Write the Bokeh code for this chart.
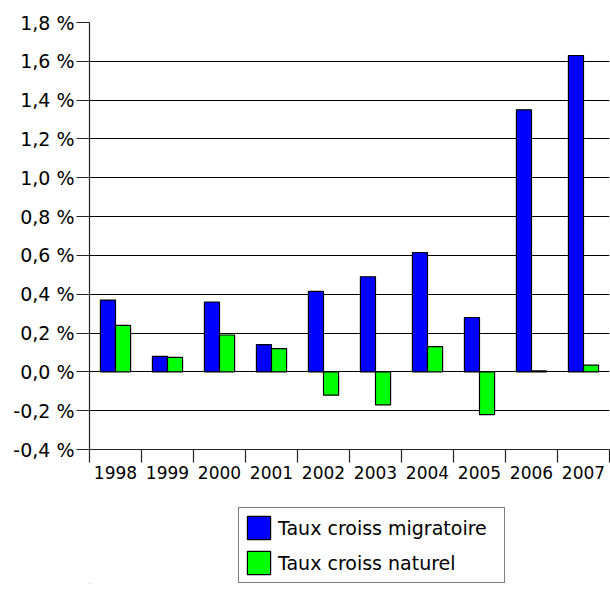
from bokeh.plotting import figure
from bokeh.layouts import column
from bokeh.models import (ColumnDataSource, Range1d, FixedTicker, Legend, LegendItem)
from bokeh.embed import file_html
from bokeh.resources import INLINE

# ---- data ----
years = ["1998", "1999", "2000", "2001", "2002", "2003", "2004", "2005", "2006", "2007"]
migratoire = [0.37, 0.08, 0.36, 0.14, 0.415, 0.49, 0.615, 0.28, 1.35, 1.63]
naturel = [0.24, 0.075, 0.19, 0.12, -0.12, -0.17, 0.13, -0.22, 0.005, 0.035]
y_ticks = [-0.4, -0.2, 0.0, 0.2, 0.4, 0.6, 0.8, 1.0, 1.2, 1.4, 1.6, 1.8]
y_labels = ["-0,4 %", "-0,2 %", "0,0 %", "0,2 %", "0,4 %", "0,6 %", "0,8 %",
            "1,0 %", "1,2 %", "1,4 %", "1,6 %", "1,8 %"]
series_names = ["Taux croiss migratoire", "Taux croiss naturel"]

FONT = "DejaVu Sans"
BLUE = "#0000FF"
GREEN = "#00FF00"

idx = list(range(len(years)))
centers = [i + 0.5 for i in idx]
src = ColumnDataSource(dict(
    xm=[c - 0.145 for c in centers],
    xn=[c + 0.145 for c in centers],
    m=migratoire,
    n=naturel,
))

p = figure(width=610, height=500, output_backend="svg", toolbar_location=None,
           x_range=Range1d(0, len(years)), y_range=Range1d(y_ticks[0], y_ticks[-1]),
           min_border_left=89, min_border_right=1, min_border_top=22,
           min_border_bottom=51)
p.outline_line_color = None
p.background_fill_color = "white"
p.border_fill_color = "white"

p.vbar(x="xm", top="m", bottom=0, width=0.29, source=src,
       fill_color=BLUE, line_color="black", line_width=1.2)
p.vbar(x="xn", top="n", bottom=0, width=0.29, source=src,
       fill_color=GREEN, line_color="black", line_width=1.2)

# y axis
p.yaxis.ticker = FixedTicker(ticks=y_ticks)
p.yaxis.major_label_overrides = {t: l for t, l in zip(y_ticks, y_labels)}
p.yaxis.major_tick_out = 13
p.yaxis.major_tick_in = 0
p.yaxis.minor_tick_line_color = None
p.yaxis.major_label_standoff = 2
p.yaxis.major_label_text_font = FONT
p.yaxis.major_label_text_font_size = "19px"
p.yaxis.major_label_text_color = "black"
p.yaxis.axis_line_color = "#222222"
p.yaxis.axis_line_width = 1.2
p.yaxis.major_tick_line_color = "#222222"
p.yaxis.major_tick_line_width = 1.2

p.ygrid.ticker = FixedTicker(ticks=y_ticks)
p.ygrid.grid_line_color = "#000000"
p.ygrid.grid_line_width = 1.2
p.xgrid.grid_line_color = None

# x axis: labels at category centers, ticks at boundaries
p.xaxis.ticker = FixedTicker(ticks=centers, minor_ticks=[float(i) for i in range(len(years) + 1)])
p.xaxis.major_label_overrides = {c: y for c, y in zip(centers, years)}
p.xaxis.major_tick_out = 13
p.xaxis.major_tick_in = 0
p.xaxis.major_tick_line_color = None
p.xaxis.minor_tick_out = 13
p.xaxis.minor_tick_in = 0
p.xaxis.minor_tick_line_color = "#222222"
p.xaxis.minor_tick_line_width = 1.2
p.xaxis.major_label_standoff = 3
p.xaxis.major_label_text_font = FONT
p.xaxis.major_label_text_font_size = "17px"
p.xaxis.major_label_text_color = "black"
p.xaxis.axis_line_color = "#222222"
p.xaxis.axis_line_width = 1.2

# legend panel below the chart (its frame is aligned with the chart's frame)
lg = figure(width=610, height=89, output_backend="svg", toolbar_location=None,
            x_range=Range1d(0, 1), y_range=Range1d(0, 1),
            x_axis_type=None, y_axis_type=None,
            min_border_left=89, min_border_right=1, min_border_top=0, min_border_bottom=6)
lg.outline_line_color = None
lg.xgrid.grid_line_color = None
lg.ygrid.grid_line_color = None
hidden = ColumnDataSource(dict(x=[-50], top=[0]))
l_m = lg.vbar(x="x", top="top", width=1, source=hidden,
              fill_color=BLUE, line_color="black", line_width=1.2)
l_n = lg.vbar(x="x", top="top", width=1, source=hidden,
              fill_color=GREEN, line_color="black", line_width=1.2)

legend = Legend(items=[LegendItem(label=series_names[0], renderers=[l_m]),
                       LegendItem(label=series_names[1], renderers=[l_n])],
                location=(149, 0), margin=0, padding=5, spacing=6,
                glyph_width=29, glyph_height=29, label_standoff=5, label_width=221,
                label_text_font=FONT, label_text_font_size="19px",
                label_text_color="black",
                border_line_color="black", border_line_width=1,
                background_fill_color="white", background_fill_alpha=1)
lg.add_layout(legend)

layout = column(p, lg, spacing=0)
open("out.html", "w").write(file_html(layout, INLINE))
